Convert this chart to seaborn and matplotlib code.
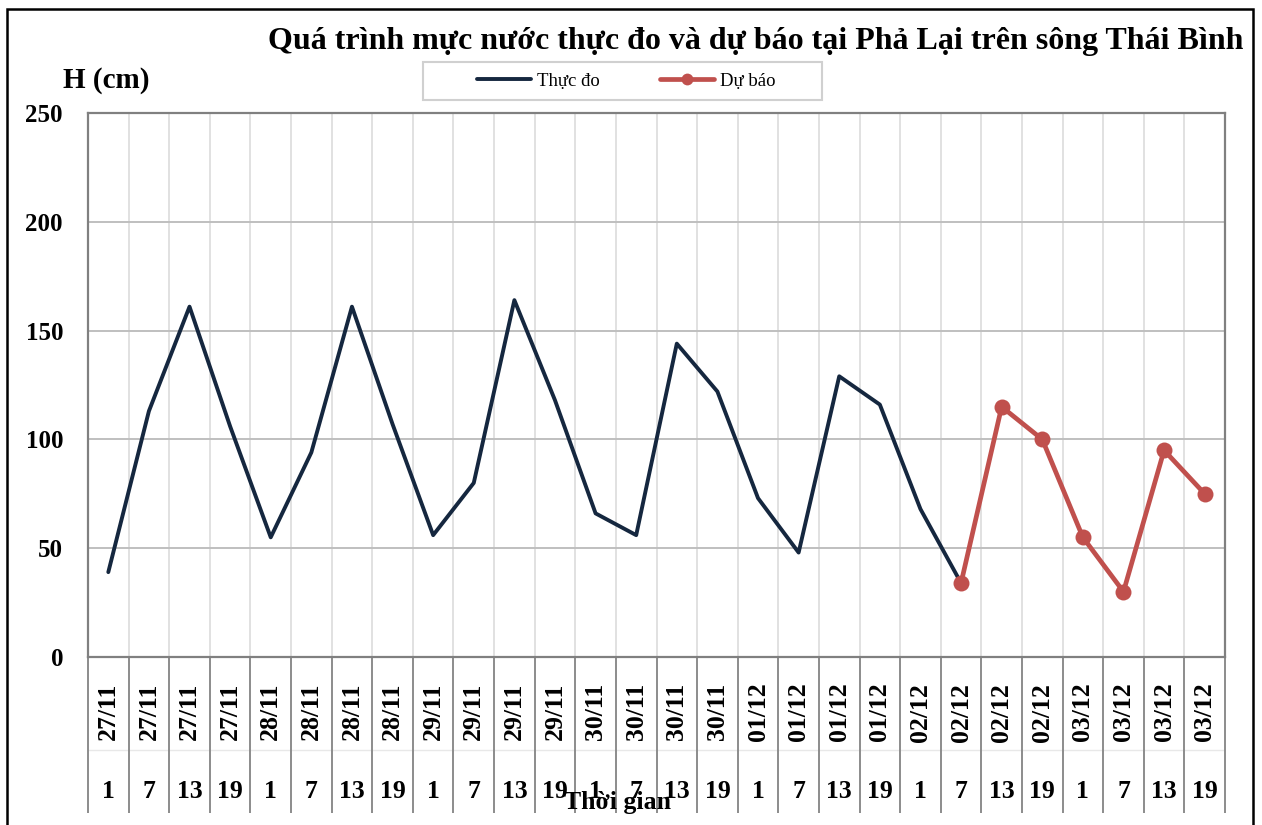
import numpy as np
import pandas as pd
import matplotlib
matplotlib.use('Agg')
import matplotlib.pyplot as plt
import matplotlib.transforms as mtransforms
from matplotlib.patches import Rectangle
from matplotlib.lines import Line2D
import seaborn as sns

# du lieu doc tu hinh
dates = ['27/11', '27/11', '27/11', '27/11', '28/11', '28/11', '28/11', '28/11',
         '29/11', '29/11', '29/11', '29/11', '30/11', '30/11', '30/11', '30/11',
         '01/12', '01/12', '01/12', '01/12', '02/12', '02/12', '02/12', '02/12',
         '03/12', '03/12', '03/12', '03/12']
hours = [1, 7, 13, 19, 1, 7, 13, 19, 1, 7, 13, 19, 1, 7, 13, 19,
         1, 7, 13, 19, 1, 7, 13, 19, 1, 7, 13, 19]
thuc_do = [39, 113, 161, 106, 55, 94, 161, 107, 56, 80, 164, 118, 66, 56,
           144, 122, 73, 48, 129, 116, 68, 34]
du_bao = [34, 115, 100, 55, 30, 95, 75]
du_bao_start = 21  # 02/12 7h

yticks = [0, 50, 100, 150, 200, 250]
title = 'Quá trình mực nước thực đo và dự báo tại Phả Lại trên sông Thái Bình'

df_obs = pd.DataFrame({'idx': np.arange(len(thuc_do)), 'H': thuc_do})
df_fc = pd.DataFrame({'idx': np.arange(du_bao_start, du_bao_start + len(du_bao)), 'H': du_bao})

sns.set_theme(style='white')
plt.rcParams['font.family'] = ['Liberation Serif', 'DejaVu Serif']
plt.rcParams['text.color'] = 'black'

W, H = 1262, 825
fig = plt.figure(figsize=(W / 100, H / 100), dpi=100)
ax = fig.add_axes([88 / W, 1 - 657 / H, (1225 - 88) / W, (657 - 113) / H])

c_obs = '#15273F'
c_fc = '#C0504D'
sns.lineplot(data=df_obs, x='idx', y='H', ax=ax, color=c_obs, linewidth=2.8)
sns.lineplot(data=df_fc, x='idx', y='H', ax=ax, color=c_fc, linewidth=3.4,
             marker='o', markersize=11.5, markeredgewidth=0)

ax.set_xlim(-0.5, len(dates) - 0.5)
ax.set_ylim(0, 250)
ax.set_yticks(yticks)
ax.set_yticklabels([str(v) for v in yticks], fontsize=18, fontweight='bold')
ax.set_xticks(np.arange(len(dates)))
ax.set_xticklabels(dates, rotation=90, fontsize=18.5, fontweight='bold')
ax.set_xticks(np.arange(-0.5, len(dates), 1), minor=True)
ax.set_xlabel('')
ax.set_ylabel('')

# luoi
ax.set_axisbelow(True)
ax.yaxis.grid(True, color='#BFBFBF', linewidth=1.4)
ax.xaxis.grid(True, which='minor', color='#D9D9D9', linewidth=1.1)
ax.xaxis.grid(False, which='major')
for s in ax.spines.values():
    s.set_color('#808080')
    s.set_linewidth(1.6)
ax.tick_params(axis='x', which='both', length=0, pad=18.5, colors='black')
ax.tick_params(axis='y', length=0, pad=18, colors='black')

# nhan gio va vach ngan duoi truc
trans = mtransforms.blended_transform_factory(ax.transData, ax.transAxes)
for i, h in enumerate(hours):
    ax.text(i, -0.248, str(h), transform=trans, ha='center', va='center',
            fontsize=18.5, fontweight='bold')
ax.hlines(-0.171, 0, 1, transform=ax.transAxes, colors='#E8E8E8',
          linewidth=1.0, clip_on=False)
ax.vlines(np.arange(-0.5, len(dates), 1), -0.286, 0, transform=trans,
          colors='#8C8C8C', linewidth=1.4, clip_on=False)

ax.text(0.466, -0.268, 'Thời gian', transform=ax.transAxes, ha='center',
        va='center', fontsize=18.5, fontweight='bold')

# tieu de, nhan truc y
fig.text(756 / W, 1 - 42 / H, title, ha='center', va='center', fontsize=23,
         fontweight='bold')
fig.text(106 / W, 1 - 80 / H, 'H (cm)', ha='center', va='center', fontsize=21,
         fontweight='bold')

# chu giai
handles = [Line2D([], [], color=c_obs, linewidth=2.8),
           Line2D([], [], color=c_fc, linewidth=3.4, marker='o', markersize=8.5,
                  markeredgewidth=0)]
fig.legend(handles, ['Thực đo', 'Dự báo'], loc='center',
           bbox_to_anchor=(626 / W, 1 - 81 / H), ncol=2, frameon=False,
           fontsize=13.5, handlelength=2.9, handletextpad=0.3, columnspacing=3.2)
fig.add_artist(Rectangle((423 / W, 1 - 100 / H), (822 - 423) / W, 38 / H,
                         transform=fig.transFigure, fill=False,
                         edgecolor='#D0D0D0', linewidth=1.5))

# khung ngoai
fig.add_artist(Rectangle((7 / W, -0.05), (1253 - 7) / W, 1.05 - 9 / H,
                         transform=fig.transFigure, fill=False,
                         edgecolor='black', linewidth=1.8))

fig.savefig('out.png', dpi=100)
